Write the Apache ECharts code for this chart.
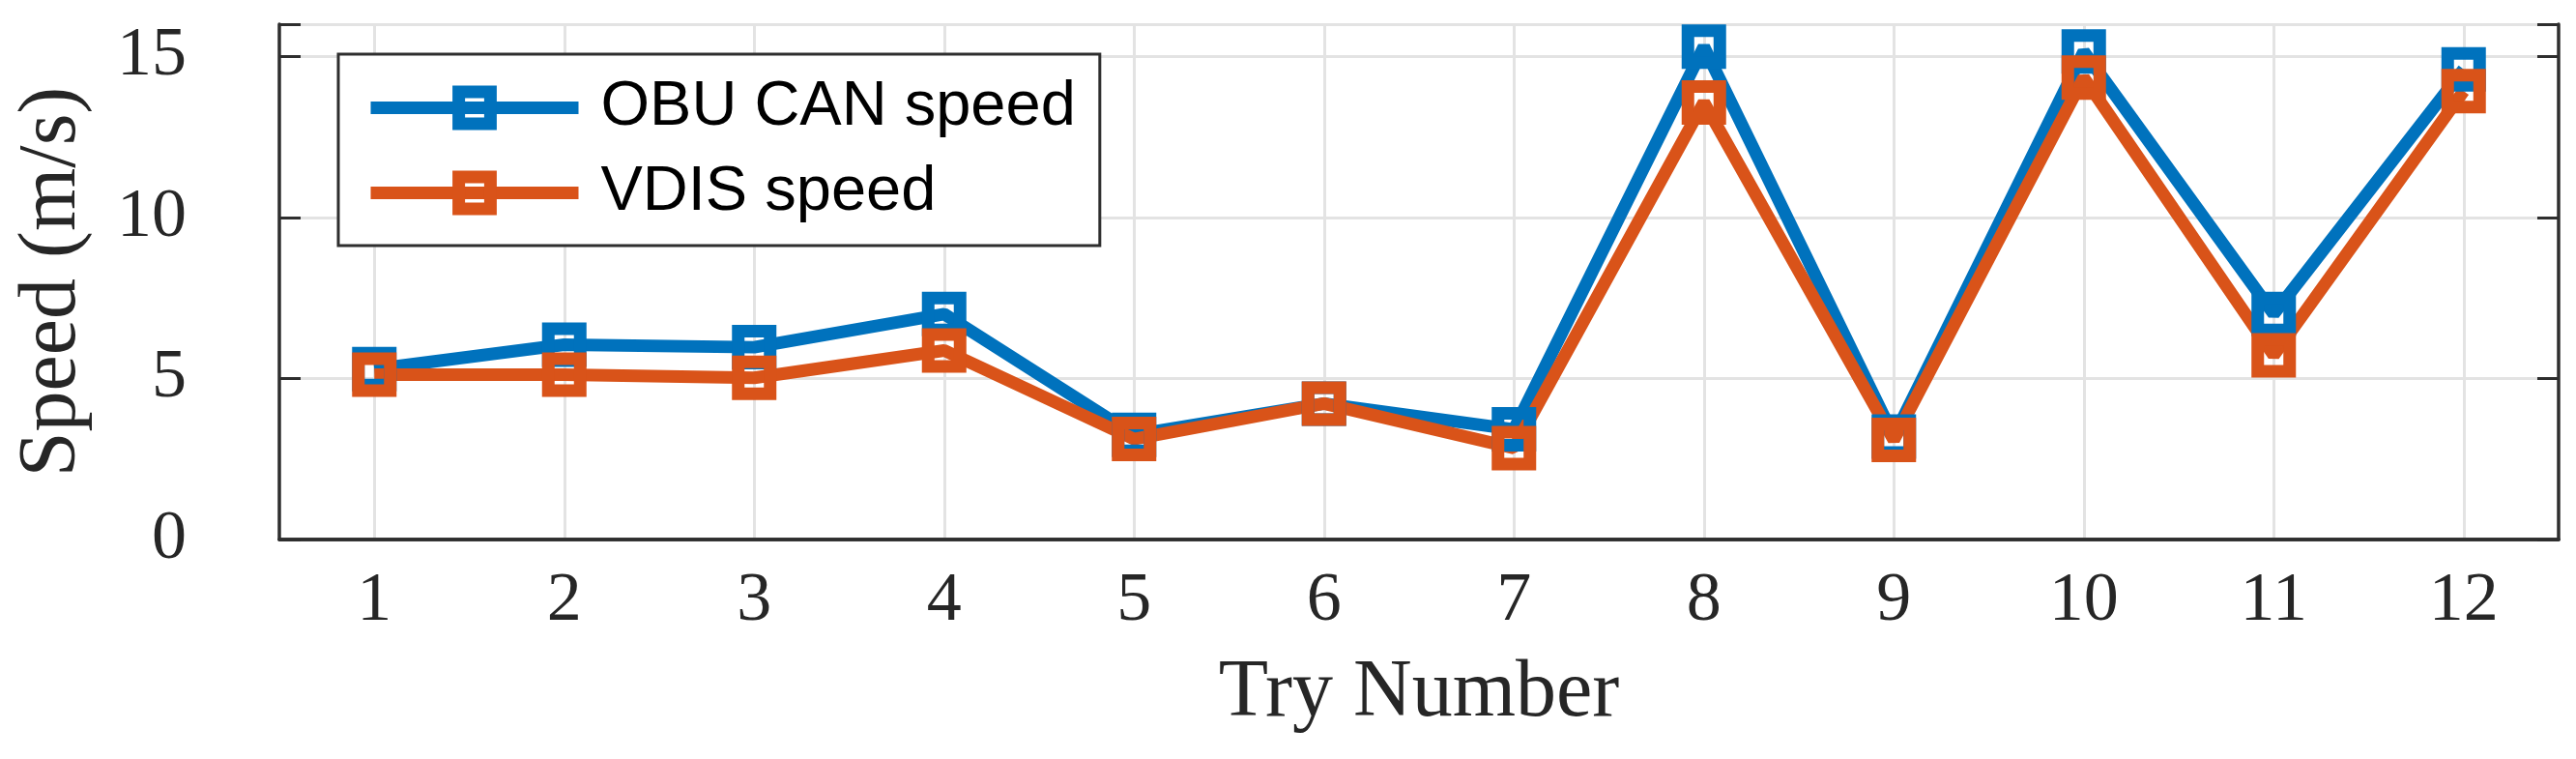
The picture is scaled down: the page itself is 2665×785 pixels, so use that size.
<!DOCTYPE html>
<html>
<head>
<meta charset="utf-8">
<title>Speed per try</title>
<script src="https://cdn.jsdelivr.net/npm/echarts@6.0.0/dist/echarts.min.js"></script>
<style>
  html, body { margin: 0; padding: 0; background: #fff; }
  #chart { width: 2665px; height: 785px; }
</style>
</head>
<body>
<div id="chart"></div>
<script>
// data
var tryNumbers = ['1', '2', '3', '4', '5', '6', '7', '8', '9', '10', '11', '12'];
var obuCanSpeed = [5.29, 6.05, 5.97, 7.0, 3.25, 4.22, 3.42, 15.3, 3.2, 15.15, 7.0, 14.6];
var vdisSpeed = [5.12, 5.12, 5.02, 5.87, 3.12, 4.22, 2.84, 13.57, 3.09, 14.34, 5.72, 13.92];
var yTicks = [0, 5, 10, 15];

var blue = '#0072BD';
var orange = '#D95319';
var axisColor = '#2e2e2e';
var serif = 'Liberation Serif';

var chart = echarts.init(document.getElementById('chart'));

function lineSeries(name, data, color) {
  return {
    name: name,
    type: 'line',
    data: data,
    symbol: 'rect',
    symbolSize: 33,
    lineStyle: { color: color, width: 13 },
    itemStyle: { color: 'rgba(0,0,0,0)', borderColor: color, borderWidth: 13 },
    emphasis: { disabled: true },
    animation: false
  };
}

chart.setOption({
  grid: { left: 289, right: 18, top: 25, bottom: 227, containLabel: false },
  legend: {
    orient: 'vertical',
    left: 350,
    top: 56,
    backgroundColor: '#fff',
    borderColor: axisColor,
    borderWidth: 3,
    padding: [23, 25, 22, 27],
    itemWidth: 215,
    itemHeight: 41,
    itemGap: 23,
    selectedMode: false,
    textStyle: {
      fontFamily: 'Liberation Sans',
      fontSize: 65,
      lineHeight: 60,
      color: '#000',
      padding: [0, 0, 0, 18]
    },
    data: [
      {
        name: 'OBU CAN speed',
        lineStyle: { color: blue, width: 13 },
        itemStyle: { color: 'rgba(0,0,0,0)', borderColor: blue, borderWidth: 13 }
      },
      {
        name: 'VDIS speed',
        lineStyle: { color: orange, width: 13 },
        itemStyle: { color: 'rgba(0,0,0,0)', borderColor: orange, borderWidth: 13 }
      }
    ]
  },
  xAxis: [
    {
      type: 'category',
      data: tryNumbers,
      boundaryGap: true,
      name: 'Try Number',
      nameLocation: 'middle',
      nameGap: 118,
      nameTextStyle: { fontFamily: serif, fontSize: 84, color: '#262626' },
      axisLine: { lineStyle: { color: axisColor, width: 3.5 } },
      axisTick: { inside: true, alignWithLabel: true, length: 22, lineStyle: { color: axisColor, width: 3 } },
      axisLabel: { margin: 28, fontFamily: serif, fontSize: 72, color: '#262626' },
      splitLine: { show: true, alignWithLabel: true, lineStyle: { color: '#e3e3e3', width: 3 } }
    },
    {
      // top border with mirrored ticks
      type: 'category',
      data: tryNumbers,
      boundaryGap: true,
      position: 'top',
      axisLine: { show: true, lineStyle: { color: axisColor, width: 3.5 } },
      axisTick: { inside: true, alignWithLabel: true, length: 22, lineStyle: { color: axisColor, width: 3 } },
      axisLabel: { show: false },
      splitLine: { show: false }
    }
  ],
  yAxis: [
    {
      type: 'value',
      min: 0,
      max: 16,
      interval: 5,
      name: 'Speed (m/s)',
      nameLocation: 'middle',
      nameGap: 192,
      nameTextStyle: { fontFamily: serif, fontSize: 84, color: '#262626' },
      axisLine: { show: true, lineStyle: { color: axisColor, width: 3.5 } },
      axisTick: { show: true, inside: true, length: 22, lineStyle: { color: axisColor, width: 3 } },
      axisLabel: {
        margin: 96,
        fontFamily: serif,
        fontSize: 72,
        color: '#262626',
        formatter: function (v) {
          return yTicks.indexOf(v) > -1 ? String(v) : '';
        }
      },
      splitLine: { show: true, lineStyle: { color: '#e3e3e3', width: 3 } }
    },
    {
      // right border with mirrored ticks
      type: 'value',
      min: 0,
      max: 16,
      interval: 5,
      position: 'right',
      axisLine: { show: true, lineStyle: { color: axisColor, width: 3.5 } },
      axisTick: { show: true, inside: true, length: 22, lineStyle: { color: axisColor, width: 3 } },
      axisLabel: { show: false },
      splitLine: { show: false }
    }
  ],
  series: [
    lineSeries('OBU CAN speed', obuCanSpeed, blue),
    lineSeries('VDIS speed', vdisSpeed, orange)
  ]
});
</script>
</body>
</html>
